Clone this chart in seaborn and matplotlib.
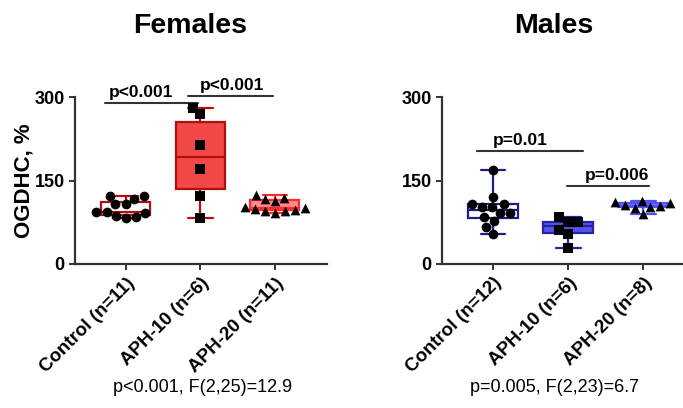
import numpy as np
import pandas as pd
import seaborn as sns
import matplotlib.pyplot as plt

# group labels
fem_cats = ["Control (n=11)", "APH-10 (n=6)", "APH-20 (n=11)"]
male_cats = ["Control (n=12)", "APH-10 (n=6)", "APH-20 (n=8)"]

# OGDHC, % values
fem_control = [122, 117, 122, 107, 107, 94, 91, 86, 94, 85, 83]
fem_aph10 = [281, 269, 213, 171, 123, 83]
fem_aph20 = [119, 117, 124, 113, 103, 99, 97, 96, 101, 95, 92]

male_control = [169, 120, 108, 108, 103, 102, 92, 92, 84, 78, 67, 54]
male_aph10 = [76, 75, 84, 61, 53, 29]
male_aph20 = [104, 106, 114, 111, 103, 110, 100, 90]

fem_fill = ["white", "#f44848", "#ff8a8a"]
fem_edge = ["#b01010", "#b01010", "#ff2a2a"]
male_fill = ["white", "#5555e6", "#7a7af5"]
male_edge = ["#1c1c8c", "#2424a8", "#5050ff"]
markers = ["o", "s", "^"]

sns.set_style("ticks")
plt.rcParams["font.family"] = ["Liberation Sans", "DejaVu Sans"]
plt.rcParams["text.color"] = "black"
plt.rcParams["axes.labelcolor"] = "black"
plt.rcParams["xtick.color"] = "black"
plt.rcParams["ytick.color"] = "black"

fig = plt.figure(figsize=(6.83, 4.08), dpi=100)
ax1 = fig.add_axes([75 / 683, 144 / 408, 252 / 683, 167 / 408])
ax2 = fig.add_axes([442 / 683, 144 / 408, 241 / 683, 167 / 408])


def draw_panel(ax, cats, groups, fills, edges):
    for cat, vals, fc, ec, m in zip(cats, groups, fills, edges, markers):
        df = pd.DataFrame({"group": [cat] * len(vals), "value": vals})
        sns.boxplot(data=df, x="group", y="value", order=cats, ax=ax,
                    color=fc, linecolor=ec, saturation=1, width=0.66,
                    whis=(0, 100), showfliers=False, linewidth=1.6)
        sns.swarmplot(data=df, x="group", y="value", order=cats, ax=ax,
                      color="black", marker=m, size=7, zorder=5)
    ax.set_ylim(0, 300)
    ax.set_yticks([0, 150, 300])
    ax.set_xlabel("")
    ax.set_ylabel("")
    for s in ["left", "bottom"]:
        ax.spines[s].set_linewidth(1.6)
        ax.spines[s].set_color("#333333")
    sns.despine(ax=ax)
    ax.tick_params(width=1.4, length=4, color="#333333", labelsize=13)
    ax.set_xticks(range(3))
    ax.set_xticklabels(cats, rotation=45, ha="right", rotation_mode="anchor",
                       fontweight="bold", fontsize=13.5)
    for t in ax.get_yticklabels():
        t.set_fontweight("bold")


draw_panel(ax1, fem_cats, [fem_control, fem_aph10, fem_aph20], fem_fill, fem_edge)
draw_panel(ax2, male_cats, [male_control, male_aph10, male_aph20], male_fill, male_edge)
ax1.set_xlim(-0.68, 2.7)
ax2.set_xlim(-0.68, 2.53)

ax1.set_ylabel("OGDHC, %", fontsize=16, fontweight="bold", labelpad=0)
fig.text(190 / 683, 1 - 26 / 408, "Females", ha="center", va="center",
         fontsize=20.5, fontweight="bold")
fig.text(554 / 683, 1 - 26 / 408, "Males", ha="center", va="center",
         fontsize=20.5, fontweight="bold")


def sig_bar(ax, x0, x1, y, label, tx):
    ax.plot([x0, x1], [y, y], color="#333333", lw=1.5, clip_on=False)
    ax.text(tx, y + 6, label, ha="center", va="bottom", fontsize=12.5,
            fontweight="bold", clip_on=False)


sig_bar(ax1, -0.28, 0.97, 289, "p<0.001", 0.2)
sig_bar(ax1, 0.83, 1.97, 301, "p<0.001", 1.43)
sig_bar(ax2, -0.21, 1.2, 203, "p=0.01", 0.36)
sig_bar(ax2, 0.99, 2.08, 140, "p=0.006", 1.65)

fig.text(203 / 683, 1 - 388 / 408, "p<0.001, F(2,25)=12.9", ha="center",
         va="center", fontsize=13)
fig.text(555 / 683, 1 - 388 / 408, "p=0.005, F(2,23)=6.7", ha="center",
         va="center", fontsize=13)

fig.savefig("out.png", dpi=100)
